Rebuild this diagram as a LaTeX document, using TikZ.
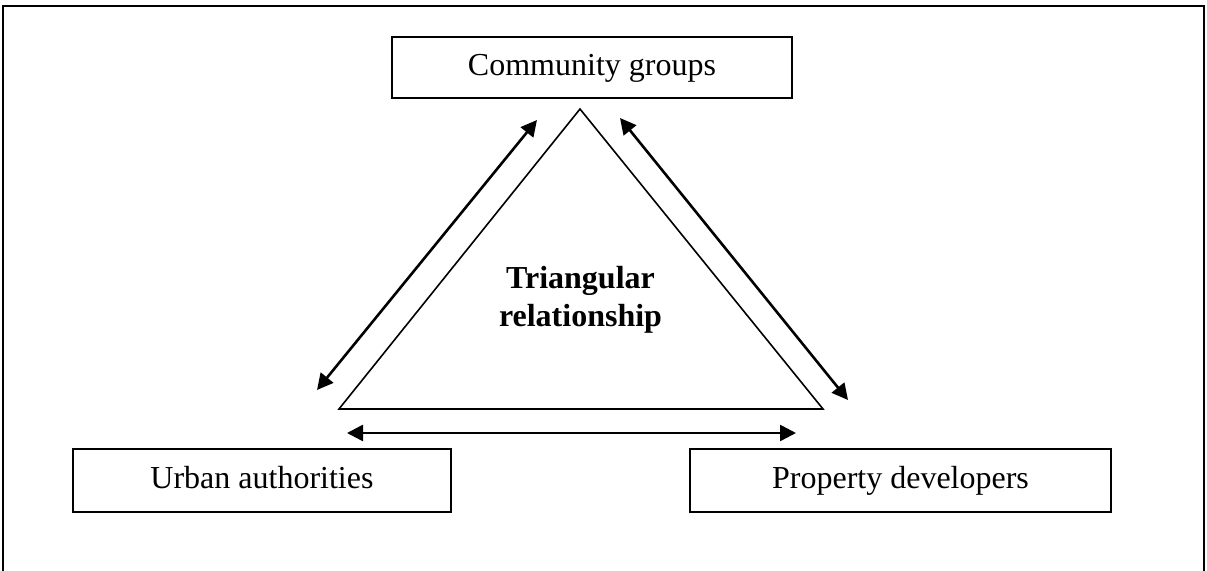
\documentclass[tikz,border=0pt]{standalone}
\usepackage{fontspec}
\setmainfont{Liberation Serif}
\usetikzlibrary{arrows.meta}

\begin{document}
\begin{tikzpicture}[x=0.5pt,y=-0.5pt,
    actor/.style={draw=black, line width=0.85pt, fill=white, inner sep=0pt,
      minimum height=31.5pt, text height=11.5pt, text depth=3.5pt,
      font=\fontsize{16}{19}\selectfont},
    link/.style={line width=1.3pt,
      {Triangle[length=8pt,width=8pt]}-{Triangle[length=8pt,width=8pt]}},
    frame/.style={draw=black, line width=1pt},
    tri/.style={draw=black, line width=0.8pt, line join=miter}]

  \useasboundingbox (0,0) rectangle (1207,571);
  \clip (0,0) rectangle (1207,571);

  % outer frame (bottom edge runs off the page)
  \draw[frame] (3,590) -- (3,6) -- (1204,6) -- (1204,590);

  % the three parties
  \node[actor, minimum width=200pt, minimum height=30.5pt] (community) at (592,67.5) {Community groups};
  \node[actor, minimum width=189pt] (urban) at (262,480.5) {Urban authorities};
  \node[actor, minimum width=210.5pt] (developers) at (900.5,480.5) {Property developers};

  % central triangle
  \coordinate (apex) at (580,109);
  \coordinate (baseL) at (339,409);
  \coordinate (baseR) at (823,409);
  \draw[tri] (apex) -- (baseL) -- (baseR) -- cycle;

  \node[font=\fontsize{16}{19}\selectfont\bfseries, align=center] (label) at (580.5,300)
    {Triangular\\relationship};

  % two-way links between the parties
  \coordinate (cuL) at (537,120);
  \coordinate (cuU) at (317,390);
  \coordinate (cdR) at (620,118);
  \coordinate (cdD) at (848,400);
  \coordinate (udL) at (347,433);
  \coordinate (udR) at (796,433);
  \draw[link] (cuU) -- (cuL);
  \draw[link] (cdR) -- (cdD);
  \draw[link] (udL) -- (udR);
\end{tikzpicture}
\end{document}
